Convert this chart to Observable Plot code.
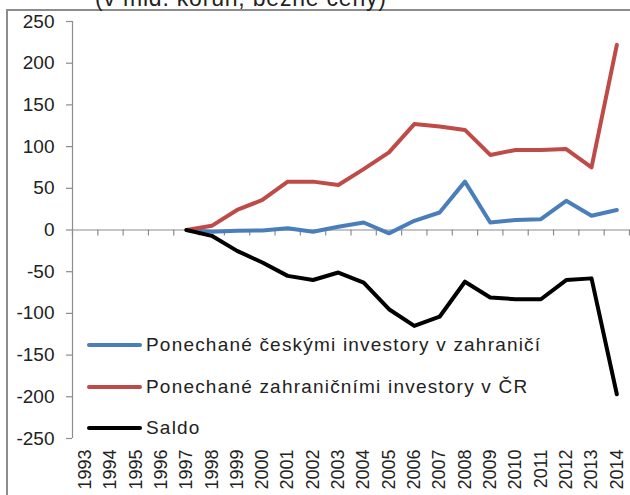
<!DOCTYPE html>
<html>
<head>
<meta charset="utf-8">
<script src="https://cdn.jsdelivr.net/npm/d3@7"></script>
<script src="https://cdn.jsdelivr.net/npm/@observablehq/plot@0.6"></script>
<style>
  html, body { margin: 0; padding: 0; background: #fff; overflow: hidden; }
  #wrap { position: relative; width: 630px; height: 495px; overflow: hidden; font-family: "Liberation Sans", Arial, sans-serif; }
  #frame { position: absolute; left: 6px; top: 9px; width: 630px; height: 500px; border-left: 2px solid #8c8c8c; border-top: 2px solid #8c8c8c; box-sizing: border-box; }
  #title { position: absolute; left: 95px; top: -13px; font-size: 23px; line-height: 23px; letter-spacing: 0.8px; color: #222; white-space: nowrap; }
  #chart { position: absolute; left: 0; top: 0; }
  .leg { position: absolute; left: 87px; height: 20px; display: flex; align-items: center; font-size: 19px; letter-spacing: 1.2px; color: #222; white-space: nowrap; }
  .leg .sw { width: 55px; height: 4px; border-radius: 2px; margin-right: 4px; }
</style>
</head>
<body>
<div id="wrap">
  <div id="frame"></div>
  <div id="title">(v mld. korun, běžné ceny)</div>
  <div id="chart"></div>
  <div id="legend"></div>
</div>
<script>
const years = d3.range(1993, 2015);
const dataYears = d3.range(1997, 2015);
const ceskymi = [0, -2, -1, -0.5, 2, -2, 4, 9, -4, 11, 21, 58, 9, 12, 13, 35, 17, 24];
const zahranicnimi = [0, 5, 24, 36, 58, 58, 54, 73, 93, 127, 124, 120, 90, 96, 96, 97, 75, 222];
const saldo = [0, -7, -25, -39, -55, -60, -51, -63, -95, -115, -104, -62, -81, -83, -83, -60, -58, -197];
const seriesNames = ["Ponechané českými investory v zahraničí", "Ponechané zahraničními investory v ČR", "Saldo"];
const seriesColors = ["#4a7ebb", "#be4b48", "#000000"];
const yTicks = d3.range(-250, 251, 50);

const rows = [];
[ceskymi, zahranicnimi, saldo].forEach((vals, s) => {
  vals.forEach((v, i) => rows.push({year: dataYears[i], value: v, series: seriesNames[s]}));
});
const boundaries = d3.range(years[0] - 0.5, years[years.length - 1] + 1, 1);

const chart = Plot.plot({
  width: 630,
  height: 495,
  marginLeft: 72,
  marginRight: 1,
  marginTop: 21,
  marginBottom: 57,
  style: {fontFamily: "Liberation Sans, Arial, sans-serif", background: "transparent", overflow: "visible"},
  x: {type: "linear", domain: [years[0] - 0.5, years[years.length - 1] + 0.5], axis: null},
  y: {domain: [-250, 250], axis: null},
  color: {domain: seriesNames, range: seriesColors},
  marks: [
    Plot.ruleX([years[0] - 0.5], {y1: -250, y2: 250, stroke: "#8c8c8c", strokeWidth: 1.2}),
    Plot.ruleY(yTicks, {x1: years[0] - 0.5, x2: years[0] - 0.5, insetLeft: -6, stroke: "#8c8c8c", strokeWidth: 1.2}),
    Plot.text(yTicks, {x: years[0] - 0.5, y: d => d, text: d => String(d), textAnchor: "end", dx: -18, fontSize: 19, fill: "#222", style: "letter-spacing:2px"}),
    Plot.ruleY([0], {x1: years[0] - 0.5, x2: years[years.length - 1] + 0.5, stroke: "#8c8c8c", strokeWidth: 1.2}),
    Plot.ruleX(boundaries, {x: d => d, y1: 0, y2: 0, insetBottom: -6, stroke: "#8c8c8c", strokeWidth: 1.2}),
    Plot.text(years, {x: d => d, y: -250, text: d => String(d), rotate: -90, textAnchor: "end", dy: 11, fontSize: 18, fill: "#222", style: "letter-spacing:0.6px"}),
    Plot.line(rows, {x: "year", y: "value", z: "series", stroke: "series", strokeWidth: 4, strokeLinejoin: "round", strokeLinecap: "round"})
  ]
});
document.getElementById("chart").appendChild(chart);

const legend = document.getElementById("legend");
const legTops = [335, 377, 418];
seriesNames.forEach((name, i) => {
  const row = document.createElement("div");
  row.className = "leg";
  row.style.top = legTops[i] + "px";
  const sw = document.createElement("div");
  sw.className = "sw";
  sw.style.background = seriesColors[i];
  row.appendChild(sw);
  const t = document.createElement("span");
  t.textContent = name;
  row.appendChild(t);
  legend.appendChild(row);
});
</script>
</body>
</html>
